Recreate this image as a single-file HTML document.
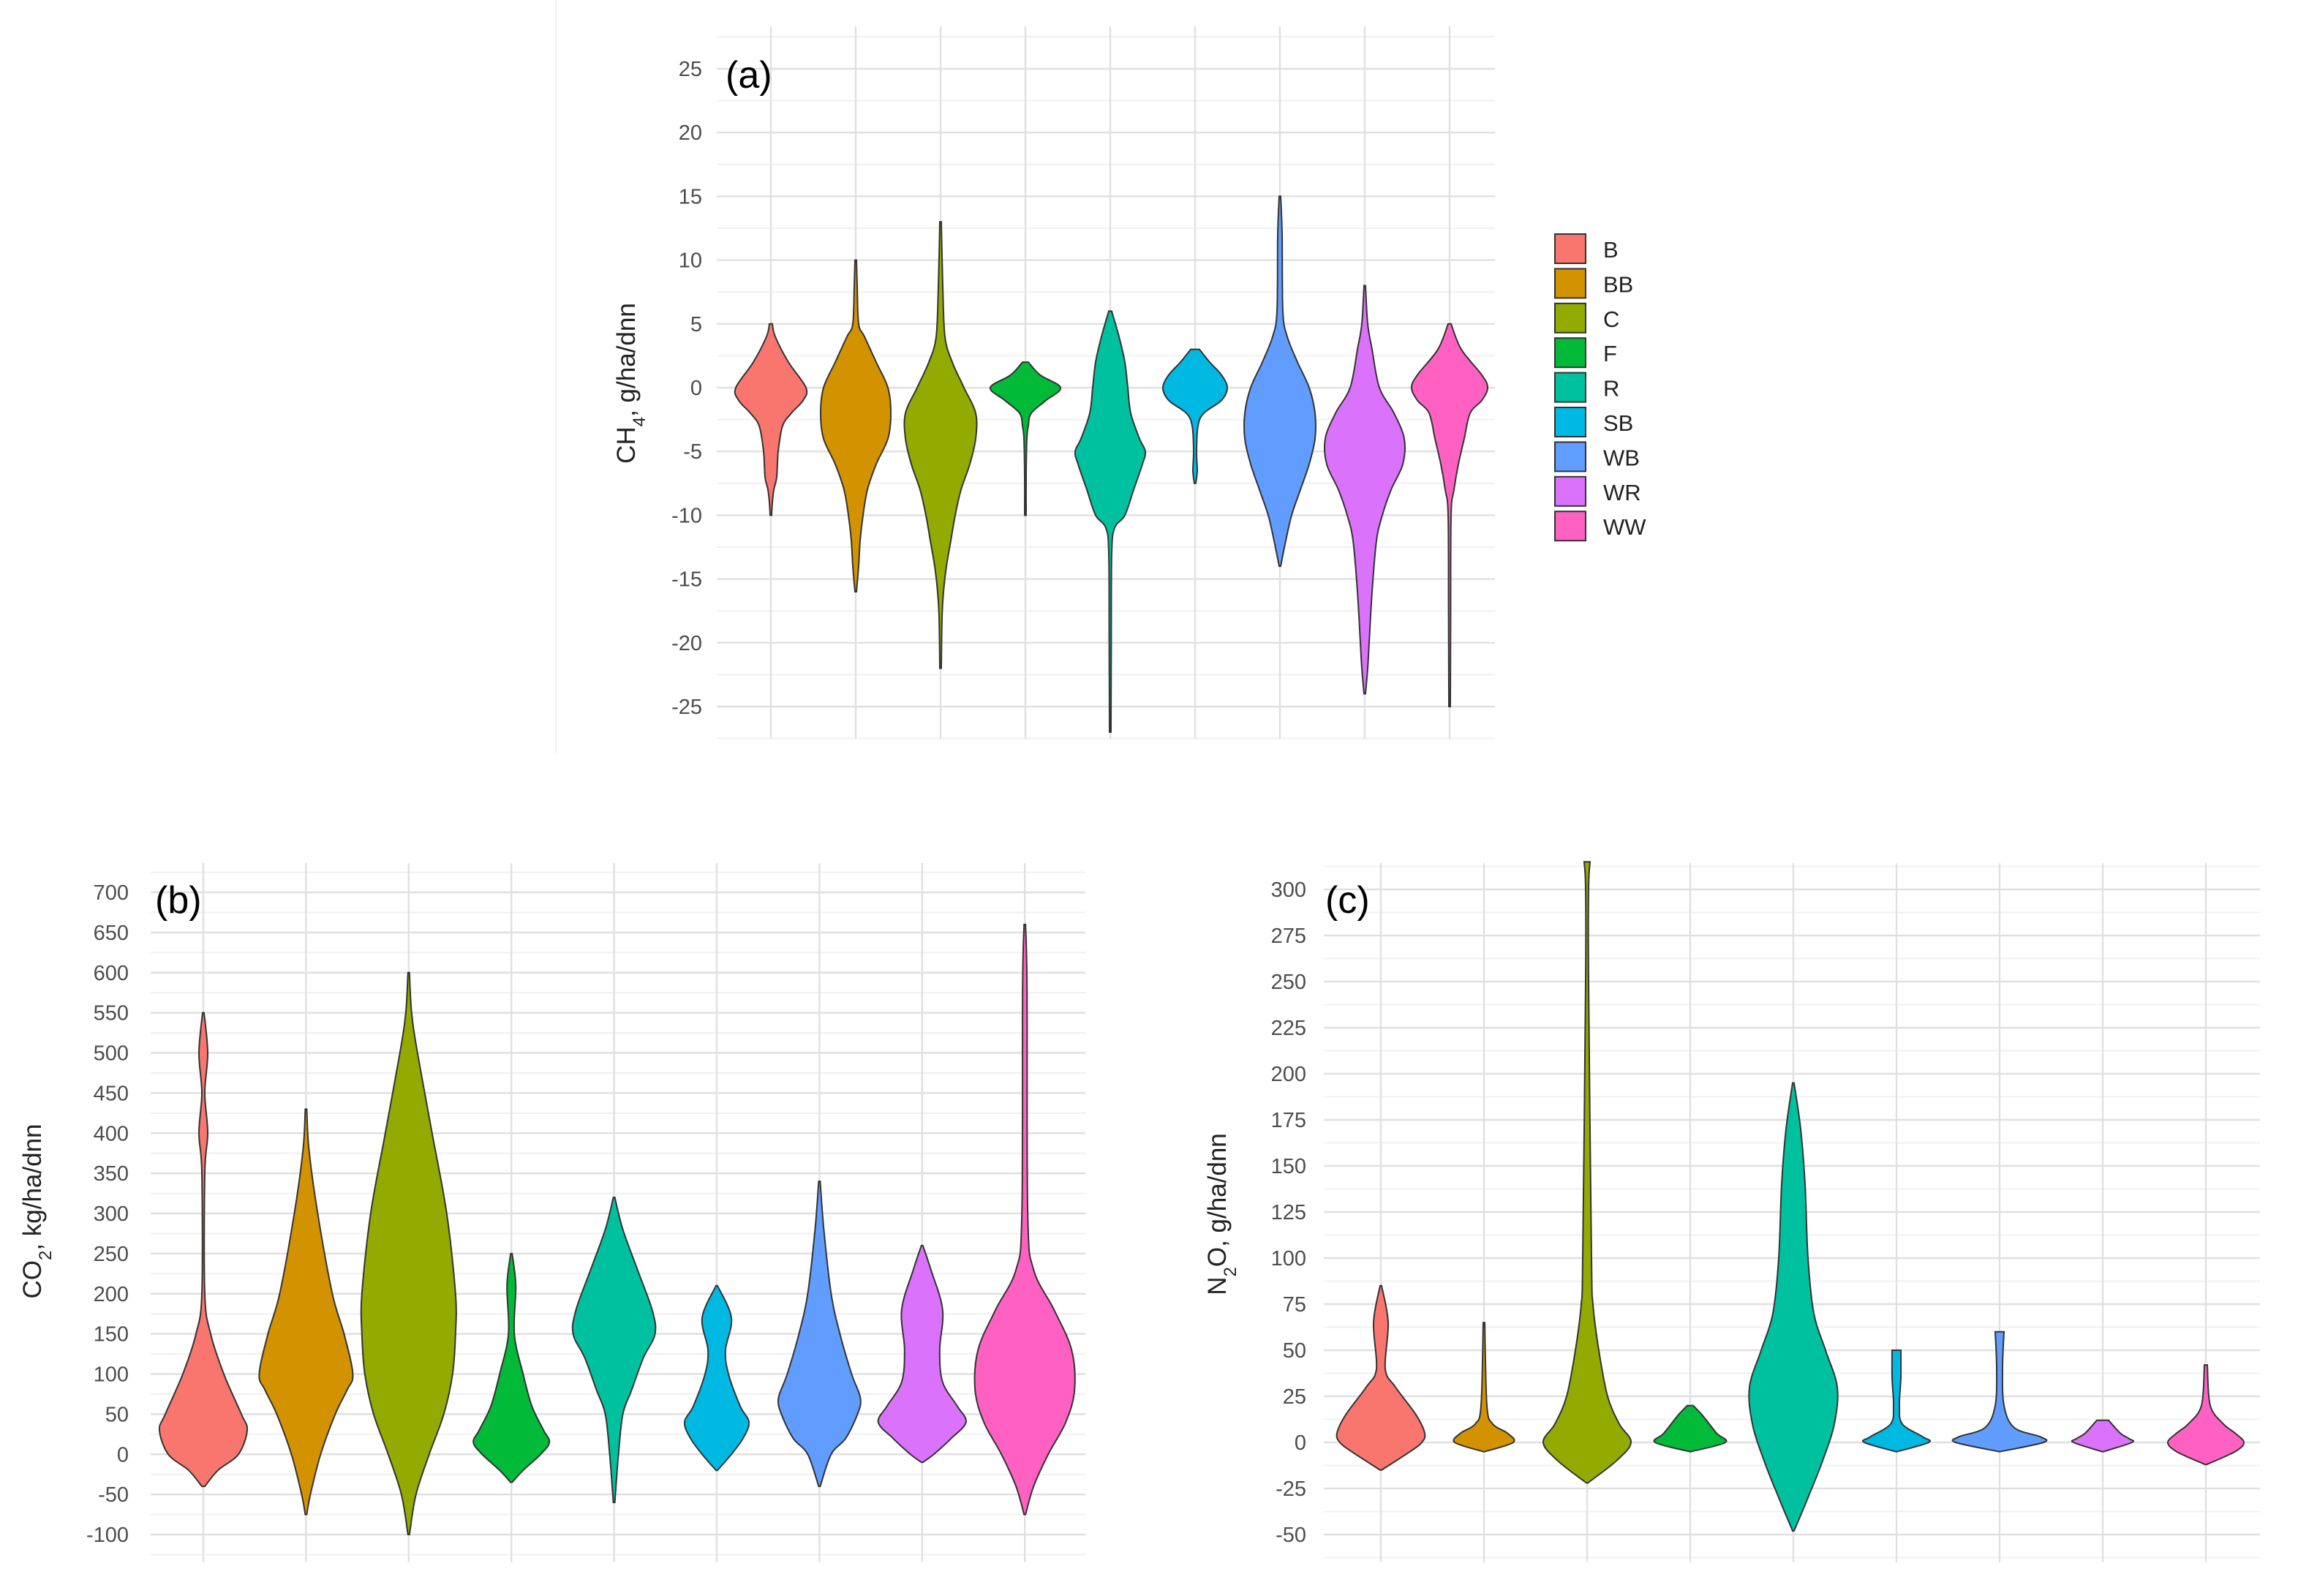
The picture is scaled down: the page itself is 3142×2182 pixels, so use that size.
<!DOCTYPE html>
<html><head><meta charset="utf-8"><style>
html,body{margin:0;padding:0;background:#fff;}
svg{display:block;font-family:"Liberation Sans",sans-serif;}
</style></head><body>
<svg id="chart" width="3142" height="2182" viewBox="0 0 1571 1091" xmlns="http://www.w3.org/2000/svg">
<line x1="380" y1="0" x2="380" y2="515" stroke="#f2f2f2" stroke-width="1"/>
</svg>
<script>
const categories = ["B","BB","C","F","R","SB","WB","WR","WW"];
const colors = ["#F8766D","#D39200","#93AA00","#00BA38","#00C19F","#00B9E3","#619CFF","#DB72FB","#FF61C3"];

// Panel (a) CH4 : values and relative density widths
const ch4Ticks = [25,20,15,10,5,0,-5,-10,-15,-20,-25];
const ch4Y = [
 [5,4,2,0,-1,-2,-3,-5,-7,-8,-9,-10],
 [10,8,5,4,2,0,-2,-4,-6,-8,-10,-12,-14,-16],
 [13,8,4,2,0,-2,-4,-6,-8,-10,-12,-14,-16,-18,-22],
 [2,1,0,-1,-2,-3,-4,-7,-10],
 [6,4,2,0,-2,-4,-5,-6,-8,-10,-11,-13,-20,-27],
 [3,2,1,0,-1,-2,-3,-5,-6.5,-7.5],
 [15,12,6,4,2,0,-2,-4,-6,-8,-10,-12,-14],
 [8,5,3,0,-2,-4,-6,-8,-10,-12,-16,-20,-22,-24],
 [5,3,1,0,-1,-2,-4,-6,-8,-10,-18,-25]
];
const ch4W = [
 [1,3,12,24,22,14,8,5,4,2,1,0.5],
 [0.5,1,2,6,14,22,24,22,14,8,5,3,2,0.5],
 [0.5,1.5,3,8,16,24,24,20,14,10,7,4,2,1,0.5],
 [2,10,24,14,4,2,1,0.5,0.5],
 [1,6,10,12,14,20,24,22,16,10,3,1,0.7,0.5],
 [3,10,18,22,18,6,2,1,1.5,0.5],
 [0.5,1.5,2,5,12,20,24,24,20,14,8,4,0.5],
 [0.5,2,5,10,20,27,26,18,12,8,5,3,2,0.5],
 [1,8,22,26,22,14,10,6,3,1,0.7,0.5]
];

// Panel (b) CO2
const co2Ticks = [700,650,600,550,500,450,400,350,300,250,200,150,100,50,0,-50,-100];
const co2Y = [
 [550,500,450,400,350,200,150,100,50,30,0,-20,-40],
 [430,380,300,200,150,100,80,50,0,-50,-75],
 [600,550,500,400,300,200,150,100,50,0,-50,-100],
 [250,210,150,100,60,30,15,0,-20,-35],
 [320,280,230,180,150,120,80,50,0,-60],
 [210,170,130,100,60,40,20,0,-20],
 [340,280,200,150,100,70,50,20,0,-40],
 [260,230,180,130,90,60,40,20,0,-10],
 [660,580,300,230,180,130,80,40,0,-40,-75]
];
const co2W = [
 [0.5,3,1,3,1,1,5,14,26,30,24,10,1],
 [0.5,2,8,18,26,32,28,20,10,3,0.5],
 [0.5,2,6,16,26,32,32,30,24,14,5,0.5],
 [0.5,3,2,8,14,22,26,20,8,0.5],
 [0.5,6,16,26,28,20,12,6,3,0.5],
 [0.5,10,6,8,16,22,18,10,0.5],
 [0.5,3,8,14,22,28,26,18,8,0.5],
 [0.5,6,14,12,14,24,30,20,8,0.5],
 [0.5,1.5,2,6,20,32,34,28,16,6,0.5]
];

// Panel (c) N2O
const n2oTicks = [300,275,250,225,200,175,150,125,100,75,50,25,0,-25,-50];
const n2oY = [
 [85,65,40,30,15,5,0,-5,-15],
 [65,20,10,5,0,-5],
 [315,300,250,100,75,50,25,10,0,-10,-22],
 [20,15,5,0,-5],
 [195,170,140,100,70,50,30,10,-10,-30,-48],
 [50,35,20,10,3,0,-5],
 [60,40,20,8,3,0,-5],
 [12,5,2,0,-5],
 [42,20,10,5,0,-5,-12]
];
const n2oW = [
 [0.5,5,3,10,24,30,28,20,0.5],
 [0.5,2,6,16,20,0.5],
 [2,1,1,3,4,8,14,22,30,20,0.5],
 [2,8,18,24,0.5],
 [0.5,5,8,10,14,22,30,28,20,10,0.5],
 [3,3,2,4,18,22,0.5],
 [3,2,3,10,28,30,0.5],
 [4,12,18,20,0.5],
 [1,3,12,20,26,20,0.5]
];

const NS = "http://www.w3.org/2000/svg";
const svg = document.getElementById("chart");
function mk(tag, attrs, parent){ const e=document.createElementNS(NS,tag); for(const k in attrs) e.setAttribute(k,attrs[k]); (parent||svg).appendChild(e); return e; }

function smoothSide(pts){ // catmull-rom to bezier
  let d="";
  for(let i=0;i<pts.length-1;i++){
    const p0=pts[Math.max(i-1,0)], p1=pts[i], p2=pts[i+1], p3=pts[Math.min(i+2,pts.length-1)];
    const c1=[p1[0]+(p2[0]-p0[0])/6, p1[1]+(p2[1]-p0[1])/6];
    const c2=[p2[0]-(p3[0]-p1[0])/6, p2[1]-(p3[1]-p1[1])/6];
    d+=` C${c1[0].toFixed(2)},${c1[1].toFixed(2)} ${c2[0].toFixed(2)},${c2[1].toFixed(2)} ${p2[0].toFixed(2)},${p2[1].toFixed(2)}`;
  }
  return d;
}

function panel(cfg){
  const g = mk("g",{});
  
  
  const t0=cfg.ticks[0], t1=cfg.ticks[cfg.ticks.length-1];
  const yScale = v => cfg.yTop + (t0 - v)*(cfg.yBot-cfg.yTop)/(t0-t1);
  const xScale = i => cfg.x0 + cfg.step*i;
  const step = cfg.ticks[0]-cfg.ticks[1];
  // minor grid
  for(let v=t0+step/2; v>t1-step; v-=step){
    const y=yScale(v); if(y<cfg.gTop||y>cfg.gBot) continue;
    const l=mk("line",{x1:cfg.gL,x2:cfg.gR,y1:y,y2:y,stroke:"#f0f0f0","stroke-width":1},g);
    
    
  }
  cfg.ticks.forEach(v=>{
    const y=yScale(v);
    const l=mk("line",{x1:cfg.gL,x2:cfg.gR,y1:y,y2:y,stroke:"#e0e0e0","stroke-width":1.2},g);
    
    
    const t=mk("text",{x:cfg.tickX,y:y+5,"text-anchor":"end","font-size":14.5,fill:"#4d4d4d"},g);
    t.textContent=v;
    
    
  });
  categories.forEach((c,i)=>{
    const x=xScale(i);
    const l=mk("line",{x1:x,x2:x,y1:cfg.gTop,y2:cfg.gBot,stroke:"#e0e0e0","stroke-width":1.2},g);
    
    
  });
  categories.forEach((c,i)=>{
    const x=xScale(i), ys=cfg.Y[i], ws=cfg.W[i];
    const right=ys.map((v,k)=>[x+ws[k]*cfg.wScale, yScale(v)]);
    const left=ys.map((v,k)=>[x-ws[k]*cfg.wScale, yScale(v)]).reverse();
    let d=`M${x},${yScale(ys[0])} L${right[0][0]},${right[0][1]}`+smoothSide(right)+` L${x},${yScale(ys[ys.length-1])} L${left[0][0]},${left[0][1]}`+smoothSide(left)+" Z";
    const p=mk("path",{d:d,fill:colors[i],stroke:"#333","stroke-width":1},g);
    
    
  });
  const lab=mk("text",{x:cfg.labX,y:cfg.labY,"font-size":26,fill:"#000"},g);
  lab.textContent=cfg.label;
  
  
  const at=mk("text",{transform:`translate(${cfg.titleX},${cfg.titleY}) rotate(-90)`,"text-anchor":"middle","font-size":17.5,fill:"#222"},g);
  at.innerHTML=cfg.title;
  
  
}

panel({name:"panel-a-ch4",ticks:ch4Ticks,Y:ch4Y,W:ch4W,yTop:47,yBot:483,x0:527,step:58,wScale:1,
 gL:490,gR:1022,gTop:18,gBot:505,tickX:480,label:"(a)",labX:496,labY:60,
 title:'CH<tspan baseline-shift="sub" font-size="12">4</tspan>, g/ha/dnn',titleX:434,titleY:262});
panel({name:"panel-b-co2",ticks:co2Ticks,Y:co2Y,W:co2W,yTop:610,yBot:1049,x0:139,step:70.2,wScale:1,
 gL:103,gR:742,gTop:590,gBot:1068,tickX:88,label:"(b)",labX:106,labY:624,
 title:'CO<tspan baseline-shift="sub" font-size="12">2</tspan>, kg/ha/dnn',titleX:28,titleY:828});
panel({name:"panel-c-n2o",ticks:n2oTicks,Y:n2oY,W:n2oW,yTop:608,yBot:1049,x0:944,step:70.5,wScale:1,
 gL:905,gR:1545,gTop:590,gBot:1068,tickX:893,label:"(c)",labX:906,labY:624,
 title:'N<tspan baseline-shift="sub" font-size="12">2</tspan>O, g/ha/dnn',titleX:838,titleY:830});

// legend
const lg=mk("g",{});


categories.forEach((c,i)=>{
  const y=160+i*23.7;
  const r=mk("rect",{x:1063,y:y,width:21,height:20,fill:colors[i],stroke:"#333","stroke-width":1},lg);
  
  
  const t=mk("text",{x:1096,y:y+16,"font-size":15.5,fill:"#222"},lg);
  t.textContent=c;
  
  
});
</script>
</body></html>
